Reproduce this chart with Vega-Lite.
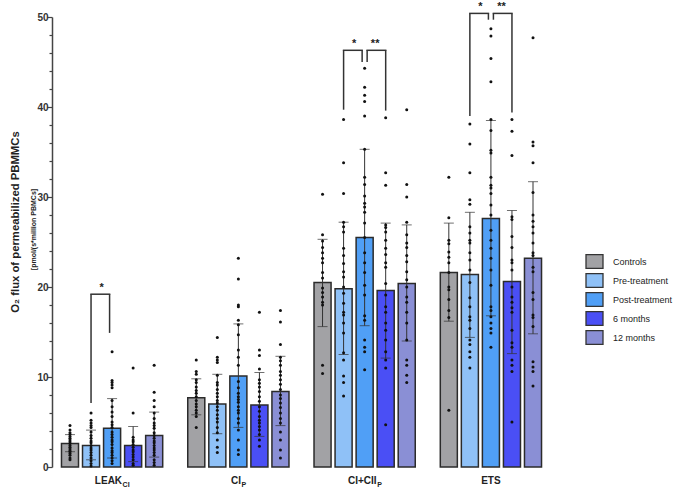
{
  "$schema": "https://vega.github.io/schema/vega-lite/v6.json",
  "width": 499,
  "height": 450,
  "autosize": {"type": "none"},
  "padding": {"left": 52, "top": 17, "right": 126, "bottom": 24},
  "config": {"font": "Liberation Sans", "view": {"stroke": null}},
  "title": {"text": "O₂ flux of permeabilized PBMMCs", "orient": "left", "anchor": "middle", "frame": "group", "fontSize": 11.3, "fontWeight": "bold", "color": "#222", "font": "Liberation Sans", "offset": 8, "dx": 20},
  "resolve": {"axis": {"y": "independent"}},
  "datasets": {
    "bars": [
      {"k": "L1", "s": "Controls", "m": 2.6, "lo": 1.7, "hi": 3.6},
      {"k": "L2", "s": "Pre-treatment", "m": 2.4, "lo": 0.8, "hi": 4.1},
      {"k": "L3", "s": "Post-treatment", "m": 4.3, "lo": 1.0, "hi": 7.6},
      {"k": "L4", "s": "6 months", "m": 2.4, "lo": 0.6, "hi": 4.5},
      {"k": "L5", "s": "12 months", "m": 3.5, "lo": 1.1, "hi": 6.1},
      {"k": "P1", "s": "Controls", "m": 7.7, "lo": 5.8, "hi": 9.8},
      {"k": "P2", "s": "Pre-treatment", "m": 7.0, "lo": 3.7, "hi": 10.3},
      {"k": "P3", "s": "Post-treatment", "m": 10.1, "lo": 4.4, "hi": 15.9},
      {"k": "P4", "s": "6 months", "m": 6.9, "lo": 3.4, "hi": 10.5},
      {"k": "P5", "s": "12 months", "m": 8.4, "lo": 4.6, "hi": 12.3},
      {"k": "C1", "s": "Controls", "m": 20.5, "lo": 15.6, "hi": 25.3},
      {"k": "C2", "s": "Pre-treatment", "m": 19.8, "lo": 12.5, "hi": 27.2},
      {"k": "C3", "s": "Post-treatment", "m": 25.5, "lo": 15.7, "hi": 35.3},
      {"k": "C4", "s": "6 months", "m": 19.6, "lo": 12.1, "hi": 27.1},
      {"k": "C5", "s": "12 months", "m": 20.4, "lo": 14.0, "hi": 26.9},
      {"k": "E1", "s": "Controls", "m": 21.6, "lo": 16.2, "hi": 27.1},
      {"k": "E2", "s": "Pre-treatment", "m": 21.4, "lo": 14.4, "hi": 28.3},
      {"k": "E3", "s": "Post-treatment", "m": 27.6, "lo": 16.8, "hi": 38.5},
      {"k": "E4", "s": "6 months", "m": 20.6, "lo": 12.6, "hi": 28.5},
      {"k": "E5", "s": "12 months", "m": 23.2, "lo": 14.8, "hi": 31.7}
    ],
    "dots": [
      {"k":"L1","v":4.6},{"k":"L1","v":4.1},{"k":"L1","v":3.8},{"k":"L1","v":3.6},{"k":"L1","v":3.4},{"k":"L1","v":3.2},{"k":"L1","v":3.0},{"k":"L1","v":2.8},{"k":"L1","v":2.6},{"k":"L1","v":2.4},{"k":"L1","v":2.2},{"k":"L1","v":2.0},{"k":"L1","v":1.8},{"k":"L1","v":1.7},{"k":"L1","v":1.5},{"k":"L1","v":1.3},{"k":"L1","v":1.0},{"k":"L1","v":0.8},
      {"k":"L2","v":6.0},{"k":"L2","v":5.2},{"k":"L2","v":4.9},{"k":"L2","v":4.6},{"k":"L2","v":4.4},{"k":"L2","v":3.9},{"k":"L2","v":3.5},{"k":"L2","v":3.2},{"k":"L2","v":2.9},{"k":"L2","v":2.7},{"k":"L2","v":2.4},{"k":"L2","v":2.1},{"k":"L2","v":1.9},{"k":"L2","v":1.6},{"k":"L2","v":1.3},{"k":"L2","v":1.0},{"k":"L2","v":0.7},{"k":"L2","v":0.4},{"k":"L2","v":0.1},
      {"k":"L3","v":12.8},{"k":"L3","v":9.6},{"k":"L3","v":9.4},{"k":"L3","v":9.1},{"k":"L3","v":8.8},{"k":"L3","v":7.4},{"k":"L3","v":6.7},{"k":"L3","v":6.1},{"k":"L3","v":5.6},{"k":"L3","v":5.0},{"k":"L3","v":4.7},{"k":"L3","v":4.4},{"k":"L3","v":3.9},{"k":"L3","v":3.6},{"k":"L3","v":3.3},{"k":"L3","v":3.0},{"k":"L3","v":2.8},{"k":"L3","v":2.5},{"k":"L3","v":2.1},{"k":"L3","v":1.8},{"k":"L3","v":1.6},{"k":"L3","v":1.3},{"k":"L3","v":1.0},{"k":"L3","v":0.7},{"k":"L3","v":0.4},
      {"k":"L4","v":11.0},{"k":"L4","v":6.0},{"k":"L4","v":3.3},{"k":"L4","v":3.0},{"k":"L4","v":2.8},{"k":"L4","v":2.5},{"k":"L4","v":2.2},{"k":"L4","v":1.9},{"k":"L4","v":1.7},{"k":"L4","v":1.4},{"k":"L4","v":1.1},{"k":"L4","v":0.8},{"k":"L4","v":0.4},{"k":"L4","v":0.2},
      {"k":"L5","v":11.3},{"k":"L5","v":8.3},{"k":"L5","v":7.4},{"k":"L5","v":6.7},{"k":"L5","v":6.0},{"k":"L5","v":5.4},{"k":"L5","v":4.9},{"k":"L5","v":4.6},{"k":"L5","v":4.3},{"k":"L5","v":3.8},{"k":"L5","v":3.5},{"k":"L5","v":3.2},{"k":"L5","v":2.9},{"k":"L5","v":2.7},{"k":"L5","v":2.4},{"k":"L5","v":2.1},{"k":"L5","v":1.9},{"k":"L5","v":1.6},{"k":"L5","v":1.3},{"k":"L5","v":0.8},{"k":"L5","v":0.5},{"k":"L5","v":0.2},
      {"k":"P1","v":11.9},{"k":"P1","v":10.6},{"k":"P1","v":10.3},{"k":"P1","v":9.7},{"k":"P1","v":9.4},{"k":"P1","v":8.9},{"k":"P1","v":8.5},{"k":"P1","v":8.2},{"k":"P1","v":7.8},{"k":"P1","v":7.4},{"k":"P1","v":7.0},{"k":"P1","v":6.7},{"k":"P1","v":6.3},{"k":"P1","v":6.0},{"k":"P1","v":5.6},{"k":"P1","v":4.4},
      {"k":"P2","v":14.4},{"k":"P2","v":12.2},{"k":"P2","v":11.9},{"k":"P2","v":11.6},{"k":"P2","v":10.2},{"k":"P2","v":9.4},{"k":"P2","v":9.1},{"k":"P2","v":8.6},{"k":"P2","v":8.2},{"k":"P2","v":7.8},{"k":"P2","v":7.4},{"k":"P2","v":7.1},{"k":"P2","v":6.7},{"k":"P2","v":6.3},{"k":"P2","v":5.8},{"k":"P2","v":5.4},{"k":"P2","v":5.0},{"k":"P2","v":4.4},{"k":"P2","v":3.8},{"k":"P2","v":3.0},{"k":"P2","v":2.2},{"k":"P2","v":1.6},
      {"k":"P3","v":23.2},{"k":"P3","v":20.9},{"k":"P3","v":18.0},{"k":"P3","v":17.8},{"k":"P3","v":16.3},{"k":"P3","v":15.8},{"k":"P3","v":14.7},{"k":"P3","v":13.0},{"k":"P3","v":12.2},{"k":"P3","v":11.3},{"k":"P3","v":9.5},{"k":"P3","v":8.8},{"k":"P3","v":8.2},{"k":"P3","v":7.8},{"k":"P3","v":7.5},{"k":"P3","v":7.2},{"k":"P3","v":6.7},{"k":"P3","v":6.3},{"k":"P3","v":6.0},{"k":"P3","v":5.4},{"k":"P3","v":4.9},{"k":"P3","v":4.1},{"k":"P3","v":3.0},{"k":"P3","v":1.9},{"k":"P3","v":1.4},
      {"k":"P4","v":17.2},{"k":"P4","v":13.0},{"k":"P4","v":12.4},{"k":"P4","v":10.9},{"k":"P4","v":9.7},{"k":"P4","v":9.3},{"k":"P4","v":8.9},{"k":"P4","v":8.4},{"k":"P4","v":7.8},{"k":"P4","v":7.3},{"k":"P4","v":6.7},{"k":"P4","v":6.2},{"k":"P4","v":5.6},{"k":"P4","v":5.2},{"k":"P4","v":4.9},{"k":"P4","v":4.5},{"k":"P4","v":4.1},{"k":"P4","v":3.6},{"k":"P4","v":3.0},{"k":"P4","v":2.3},
      {"k":"P5","v":17.4},{"k":"P5","v":16.1},{"k":"P5","v":13.6},{"k":"P5","v":12.2},{"k":"P5","v":11.8},{"k":"P5","v":11.3},{"k":"P5","v":10.6},{"k":"P5","v":10.2},{"k":"P5","v":9.7},{"k":"P5","v":9.2},{"k":"P5","v":8.6},{"k":"P5","v":8.0},{"k":"P5","v":7.6},{"k":"P5","v":7.1},{"k":"P5","v":6.6},{"k":"P5","v":6.0},{"k":"P5","v":5.4},{"k":"P5","v":4.9},{"k":"P5","v":3.9},{"k":"P5","v":3.0},{"k":"P5","v":1.9},{"k":"P5","v":1.0},
      {"k":"C1","v":30.3},{"k":"C1","v":25.8},{"k":"C1","v":25.1},{"k":"C1","v":24.4},{"k":"C1","v":23.8},{"k":"C1","v":23.2},{"k":"C1","v":22.7},{"k":"C1","v":21.6},{"k":"C1","v":21.0},{"k":"C1","v":19.9},{"k":"C1","v":19.4},{"k":"C1","v":18.9},{"k":"C1","v":18.3},{"k":"C1","v":18.0},{"k":"C1","v":11.3},{"k":"C1","v":10.4},
      {"k":"C2","v":38.6},{"k":"C2","v":33.8},{"k":"C2","v":30.4},{"k":"C2","v":27.2},{"k":"C2","v":26.7},{"k":"C2","v":26.1},{"k":"C2","v":24.3},{"k":"C2","v":23.5},{"k":"C2","v":22.6},{"k":"C2","v":21.7},{"k":"C2","v":21.1},{"k":"C2","v":20.0},{"k":"C2","v":19.3},{"k":"C2","v":18.2},{"k":"C2","v":17.2},{"k":"C2","v":16.9},{"k":"C2","v":16.0},{"k":"C2","v":14.9},{"k":"C2","v":12.7},{"k":"C2","v":11.9},{"k":"C2","v":10.1},{"k":"C2","v":9.4},{"k":"C2","v":7.9},
      {"k":"C3","v":44.3},{"k":"C3","v":42.2},{"k":"C3","v":41.3},{"k":"C3","v":40.6},{"k":"C3","v":39.0},{"k":"C3","v":35.3},{"k":"C3","v":32.2},{"k":"C3","v":31.4},{"k":"C3","v":30.1},{"k":"C3","v":29.3},{"k":"C3","v":28.9},{"k":"C3","v":28.3},{"k":"C3","v":27.1},{"k":"C3","v":25.5},{"k":"C3","v":23.8},{"k":"C3","v":22.7},{"k":"C3","v":21.6},{"k":"C3","v":20.2},{"k":"C3","v":19.1},{"k":"C3","v":16.8},{"k":"C3","v":16.3},{"k":"C3","v":14.1},{"k":"C3","v":13.3},{"k":"C3","v":12.8},{"k":"C3","v":10.8},
      {"k":"C4","v":38.8},{"k":"C4","v":32.7},{"k":"C4","v":31.3},{"k":"C4","v":26.9},{"k":"C4","v":26.6},{"k":"C4","v":26.1},{"k":"C4","v":25.2},{"k":"C4","v":24.3},{"k":"C4","v":23.6},{"k":"C4","v":22.7},{"k":"C4","v":22.2},{"k":"C4","v":20.4},{"k":"C4","v":19.1},{"k":"C4","v":17.8},{"k":"C4","v":17.2},{"k":"C4","v":16.0},{"k":"C4","v":15.2},{"k":"C4","v":14.1},{"k":"C4","v":12.8},{"k":"C4","v":11.9},{"k":"C4","v":11.0},{"k":"C4","v":4.7},
      {"k":"C5","v":39.7},{"k":"C5","v":31.4},{"k":"C5","v":30.0},{"k":"C5","v":27.2},{"k":"C5","v":25.8},{"k":"C5","v":24.9},{"k":"C5","v":24.4},{"k":"C5","v":23.5},{"k":"C5","v":22.8},{"k":"C5","v":21.7},{"k":"C5","v":20.8},{"k":"C5","v":20.0},{"k":"C5","v":18.9},{"k":"C5","v":18.3},{"k":"C5","v":17.2},{"k":"C5","v":16.0},{"k":"C5","v":14.1},{"k":"C5","v":11.9},{"k":"C5","v":11.3},{"k":"C5","v":10.2},{"k":"C5","v":9.4},
      {"k":"E1","v":32.2},{"k":"E1","v":27.7},{"k":"E1","v":25.2},{"k":"E1","v":24.8},{"k":"E1","v":23.9},{"k":"E1","v":23.3},{"k":"E1","v":22.7},{"k":"E1","v":21.6},{"k":"E1","v":20.0},{"k":"E1","v":19.7},{"k":"E1","v":18.6},{"k":"E1","v":17.4},{"k":"E1","v":16.6},{"k":"E1","v":6.3},
      {"k":"E2","v":38.1},{"k":"E2","v":35.9},{"k":"E2","v":32.7},{"k":"E2","v":29.7},{"k":"E2","v":29.2},{"k":"E2","v":26.7},{"k":"E2","v":26.0},{"k":"E2","v":25.2},{"k":"E2","v":24.9},{"k":"E2","v":23.8},{"k":"E2","v":23.0},{"k":"E2","v":21.9},{"k":"E2","v":20.5},{"k":"E2","v":18.8},{"k":"E2","v":17.8},{"k":"E2","v":16.7},{"k":"E2","v":16.3},{"k":"E2","v":15.4},{"k":"E2","v":14.1},{"k":"E2","v":13.6},{"k":"E2","v":12.8},{"k":"E2","v":12.2},{"k":"E2","v":11.0},
      {"k":"E3","v":48.7},{"k":"E3","v":47.9},{"k":"E3","v":45.4},{"k":"E3","v":42.8},{"k":"E3","v":38.6},{"k":"E3","v":37.4},{"k":"E3","v":35.2},{"k":"E3","v":34.9},{"k":"E3","v":32.2},{"k":"E3","v":31.3},{"k":"E3","v":31.0},{"k":"E3","v":30.4},{"k":"E3","v":29.1},{"k":"E3","v":28.0},{"k":"E3","v":26.3},{"k":"E3","v":25.2},{"k":"E3","v":24.3},{"k":"E3","v":23.2},{"k":"E3","v":21.9},{"k":"E3","v":20.2},{"k":"E3","v":17.8},{"k":"E3","v":17.4},{"k":"E3","v":16.7},{"k":"E3","v":16.0},{"k":"E3","v":15.4},{"k":"E3","v":14.9},{"k":"E3","v":13.3},
      {"k":"E4","v":38.6},{"k":"E4","v":37.3},{"k":"E4","v":34.6},{"k":"E4","v":27.8},{"k":"E4","v":27.5},{"k":"E4","v":25.6},{"k":"E4","v":24.4},{"k":"E4","v":23.0},{"k":"E4","v":22.7},{"k":"E4","v":21.9},{"k":"E4","v":20.0},{"k":"E4","v":18.9},{"k":"E4","v":18.3},{"k":"E4","v":17.7},{"k":"E4","v":17.2},{"k":"E4","v":15.2},{"k":"E4","v":13.8},{"k":"E4","v":13.3},{"k":"E4","v":11.9},{"k":"E4","v":11.3},{"k":"E4","v":10.6},{"k":"E4","v":5.0},
      {"k":"E5","v":47.7},{"k":"E5","v":36.1},{"k":"E5","v":35.7},{"k":"E5","v":33.8},{"k":"E5","v":30.5},{"k":"E5","v":28.0},{"k":"E5","v":27.3},{"k":"E5","v":26.7},{"k":"E5","v":26.0},{"k":"E5","v":24.9},{"k":"E5","v":23.8},{"k":"E5","v":23.5},{"k":"E5","v":22.2},{"k":"E5","v":21.7},{"k":"E5","v":19.4},{"k":"E5","v":18.6},{"k":"E5","v":16.9},{"k":"E5","v":16.6},{"k":"E5","v":15.6},{"k":"E5","v":11.7},{"k":"E5","v":11.1},{"k":"E5","v":10.6},{"k":"E5","v":9.0}
    ],
    "brk": [
      {"o": "L2", "i": "L3", "side": "L", "top": 19.2, "yo": 7.1, "yi": 14.9, "left": "L2", "star": "*"},
      {"o": "C2", "i": "C3", "side": "L", "top": 46.3, "yo": 39.7, "yi": 45.0, "left": "C2", "star": "*"},
      {"o": "C4", "i": "C3", "side": "R", "top": 46.3, "yo": 39.6, "yi": 45.0, "left": "C3", "star": "**"},
      {"o": "E2", "i": "E3", "side": "L", "top": 50.4, "yo": 39.0, "yi": 49.7, "left": "E2", "star": "*"},
      {"o": "E4", "i": "E3", "side": "R", "top": 50.4, "yo": 39.4, "yi": 49.7, "left": "E3", "star": "**"}
    ],
    "labels": [
      {"k": "L3", "main": "LEAK", "sub": "CI"},
      {"k": "P3", "main": "CI", "sub": "P"},
      {"k": "C3", "main": "CI+CII", "sub": "P"},
      {"k": "E3", "main": "ETS", "sub": ""}
    ]
  },
  "layer": [
    {
      "data": {"name": "bars"},
      "mark": {"type": "tick", "opacity": 0},
      "encoding": {
        "x": {"field": "k", "type": "nominal", "scale": {"domain": ["L1","L2","L3","L4","L5","g1","P1","P2","P3","P4","P5","g2","C1","C2","C3","C4","C5","g3","E1","E2","E3","E4","E5"], "paddingInner": 0.19, "paddingOuter": 0.45}, "axis": null},
        "y": {"field": "m", "type": "quantitative", "scale": {"domain": [0, 50], "nice": false},
              "axis": {"orient": "left", "values": [2,4,6,8,12,14,16,18,22,24,26,28,32,34,36,38,42,44,46,48], "labels": false, "domain": false, "grid": false, "title": null, "tickSize": 3, "tickColor": "#444", "tickWidth": 1.2}}
      }
    },
    {
      "data": {"name": "bars"},
      "mark": {"type": "bar", "stroke": "#2b2b2b", "strokeWidth": 1.5},
      "encoding": {
        "x": {"field": "k", "type": "nominal", "scale": {"domain": ["L1","L2","L3","L4","L5","g1","P1","P2","P3","P4","P5","g2","C1","C2","C3","C4","C5","g3","E1","E2","E3","E4","E5"], "paddingInner": 0.19, "paddingOuter": 0.45},
              "axis": {"labels": false, "ticks": false, "title": null, "domainColor": "#444", "domainWidth": 1.5}},
        "y": {"field": "m", "type": "quantitative", "scale": {"domain": [0, 50], "nice": false, "zero": true},
              "axis": {"orient": "left", "values": [0,10,20,30,40,50],
                       "tickSize": 5, "tickColor": "#444", "tickWidth": 1.2, "domainColor": "#444", "domainWidth": 1.5,
                       "labelFont": "Liberation Sans", "labelFontWeight": "bold", "labelFontSize": 10, "labelColor": "#333", "labelPadding": -1,
                       "grid": false,
                       "title": "[pmol/(s*million PBMCs]", "titleFont": "Liberation Sans", "titleFontSize": 7, "titleFontWeight": "bold", "titleColor": "#222",
                       "titleX": -19, "titleY": 212, "titleAngle": -90, "titleBaseline": "middle", "titleAlign": "center"}},
        "color": {"field": "s", "type": "nominal",
                  "scale": {"domain": ["Controls","Pre-treatment","Post-treatment","6 months","12 months"], "range": ["#a2a2a5","#8fc1f7","#509ff6","#4a4ff5","#8a8fd5"]},
                  "legend": {"orient": "none", "legendX": 533, "legendY": 235, "title": null, "symbolType": "M-1,-0.8H1V0.8H-1Z", "symbolSize": 289,
                             "symbolStrokeColor": "#333", "symbolStrokeWidth": 1.3, "symbolFillOpacity": 1, "labelFont": "Liberation Sans", "labelFontSize": 9,
                             "labelColor": "#222", "labelOffset": 9, "rowPadding": 0}}
      }
    },
    {
      "data": {"name": "bars"},
      "mark": {"type": "rule", "color": "#333", "strokeWidth": 1},
      "encoding": {
        "x": {"field": "k", "type": "nominal", "scale": {"domain": ["L1","L2","L3","L4","L5","g1","P1","P2","P3","P4","P5","g2","C1","C2","C3","C4","C5","g3","E1","E2","E3","E4","E5"], "paddingInner": 0.19, "paddingOuter": 0.45}, "axis": null},
        "y": {"field": "lo", "type": "quantitative", "scale": {"domain": [0, 50], "nice": false}, "axis": null},
        "y2": {"field": "hi"}
      }
    },
    {
      "data": {"name": "bars"},
      "mark": {"type": "tick", "color": "#333", "thickness": 1, "size": 10},
      "encoding": {
        "x": {"field": "k", "type": "nominal", "scale": {"domain": ["L1","L2","L3","L4","L5","g1","P1","P2","P3","P4","P5","g2","C1","C2","C3","C4","C5","g3","E1","E2","E3","E4","E5"], "paddingInner": 0.19, "paddingOuter": 0.45}, "axis": null},
        "y": {"field": "lo", "type": "quantitative", "scale": {"domain": [0, 50], "nice": false}, "axis": null}
      }
    },
    {
      "data": {"name": "bars"},
      "mark": {"type": "tick", "color": "#333", "thickness": 1, "size": 10},
      "encoding": {
        "x": {"field": "k", "type": "nominal", "scale": {"domain": ["L1","L2","L3","L4","L5","g1","P1","P2","P3","P4","P5","g2","C1","C2","C3","C4","C5","g3","E1","E2","E3","E4","E5"], "paddingInner": 0.19, "paddingOuter": 0.45}, "axis": null},
        "y": {"field": "hi", "type": "quantitative", "scale": {"domain": [0, 50], "nice": false}, "axis": null}
      }
    },
    {
      "data": {"name": "dots"},
      "mark": {"type": "circle", "size": 9, "color": "#111", "opacity": 1},
      "encoding": {
        "x": {"field": "k", "type": "nominal", "scale": {"domain": ["L1","L2","L3","L4","L5","g1","P1","P2","P3","P4","P5","g2","C1","C2","C3","C4","C5","g3","E1","E2","E3","E4","E5"], "paddingInner": 0.19, "paddingOuter": 0.45}, "axis": null},
        "y": {"field": "v", "type": "quantitative", "scale": {"domain": [0, 50], "nice": false}, "axis": null}
      }
    },
    {
      "data": {"name": "brk"},
      "transform": [{"filter": "datum.side == 'L'"}],
      "mark": {"type": "rule", "color": "#333", "strokeWidth": 1.5, "x2Offset": -2.5, "strokeCap": "square"},
      "encoding": {
        "x": {"field": "o", "type": "nominal", "scale": {"domain": ["L1","L2","L3","L4","L5","g1","P1","P2","P3","P4","P5","g2","C1","C2","C3","C4","C5","g3","E1","E2","E3","E4","E5"], "paddingInner": 0.19, "paddingOuter": 0.45}, "axis": null},
        "x2": {"field": "i"},
        "y": {"field": "top", "type": "quantitative", "scale": {"domain": [0, 50], "nice": false}, "axis": null}
      }
    },
    {
      "data": {"name": "brk"},
      "transform": [{"filter": "datum.side == 'R'"}],
      "mark": {"type": "rule", "color": "#333", "strokeWidth": 1.5, "x2Offset": 2.5, "strokeCap": "square"},
      "encoding": {
        "x": {"field": "o", "type": "nominal", "scale": {"domain": ["L1","L2","L3","L4","L5","g1","P1","P2","P3","P4","P5","g2","C1","C2","C3","C4","C5","g3","E1","E2","E3","E4","E5"], "paddingInner": 0.19, "paddingOuter": 0.45}, "axis": null},
        "x2": {"field": "i"},
        "y": {"field": "top", "type": "quantitative", "scale": {"domain": [0, 50], "nice": false}, "axis": null}
      }
    },
    {
      "data": {"name": "brk"},
      "mark": {"type": "rule", "color": "#333", "strokeWidth": 1.5},
      "encoding": {
        "x": {"field": "o", "type": "nominal", "scale": {"domain": ["L1","L2","L3","L4","L5","g1","P1","P2","P3","P4","P5","g2","C1","C2","C3","C4","C5","g3","E1","E2","E3","E4","E5"], "paddingInner": 0.19, "paddingOuter": 0.45}, "axis": null},
        "y": {"field": "yo", "type": "quantitative", "scale": {"domain": [0, 50], "nice": false}, "axis": null},
        "y2": {"field": "top"}
      }
    },
    {
      "data": {"name": "brk"},
      "transform": [{"filter": "datum.side == 'L'"}],
      "mark": {"type": "rule", "color": "#333", "strokeWidth": 1.5, "xOffset": -2.5},
      "encoding": {
        "x": {"field": "i", "type": "nominal", "scale": {"domain": ["L1","L2","L3","L4","L5","g1","P1","P2","P3","P4","P5","g2","C1","C2","C3","C4","C5","g3","E1","E2","E3","E4","E5"], "paddingInner": 0.19, "paddingOuter": 0.45}, "axis": null},
        "y": {"field": "yi", "type": "quantitative", "scale": {"domain": [0, 50], "nice": false}, "axis": null},
        "y2": {"field": "top"}
      }
    },
    {
      "data": {"name": "brk"},
      "transform": [{"filter": "datum.side == 'R'"}],
      "mark": {"type": "rule", "color": "#333", "strokeWidth": 1.5, "xOffset": 2.5},
      "encoding": {
        "x": {"field": "i", "type": "nominal", "scale": {"domain": ["L1","L2","L3","L4","L5","g1","P1","P2","P3","P4","P5","g2","C1","C2","C3","C4","C5","g3","E1","E2","E3","E4","E5"], "paddingInner": 0.19, "paddingOuter": 0.45}, "axis": null},
        "y": {"field": "yi", "type": "quantitative", "scale": {"domain": [0, 50], "nice": false}, "axis": null},
        "y2": {"field": "top"}
      }
    },
    {
      "data": {"name": "brk"},
      "mark": {"type": "text", "color": "#222", "fontSize": 11, "fontWeight": "bold", "dx": 10.5, "dy": -1, "baseline": "bottom", "align": "center"},
      "encoding": {
        "x": {"field": "left", "type": "nominal", "scale": {"domain": ["L1","L2","L3","L4","L5","g1","P1","P2","P3","P4","P5","g2","C1","C2","C3","C4","C5","g3","E1","E2","E3","E4","E5"], "paddingInner": 0.19, "paddingOuter": 0.45}, "axis": null},
        "y": {"field": "top", "type": "quantitative", "scale": {"domain": [0, 50], "nice": false}, "axis": null},
        "text": {"field": "star"}
      }
    },
    {
      "data": {"name": "labels"},
      "transform": [{"filter": "datum.k == 'L3'"}],
      "mark": {"type": "text", "color": "#222", "fontSize": 10, "fontWeight": "bold", "align": "right", "dx": 10, "dy": 17, "baseline": "alphabetic"},
      "encoding": {
        "x": {"field": "k", "type": "nominal", "scale": {"domain": ["L1","L2","L3","L4","L5","g1","P1","P2","P3","P4","P5","g2","C1","C2","C3","C4","C5","g3","E1","E2","E3","E4","E5"], "paddingInner": 0.19, "paddingOuter": 0.45}, "axis": null},
        "y": {"datum": 0, "type": "quantitative", "scale": {"domain": [0, 50], "nice": false}, "axis": null},
        "text": {"field": "main"}
      }
    },
    {
      "data": {"name": "labels"},
      "transform": [{"filter": "datum.k == 'L3'"}],
      "mark": {"type": "text", "color": "#222", "fontSize": 7, "fontWeight": "bold", "align": "left", "dx": 10.5, "dy": 19.5, "baseline": "alphabetic"},
      "encoding": {
        "x": {"field": "k", "type": "nominal", "scale": {"domain": ["L1","L2","L3","L4","L5","g1","P1","P2","P3","P4","P5","g2","C1","C2","C3","C4","C5","g3","E1","E2","E3","E4","E5"], "paddingInner": 0.19, "paddingOuter": 0.45}, "axis": null},
        "y": {"datum": 0, "type": "quantitative", "scale": {"domain": [0, 50], "nice": false}, "axis": null},
        "text": {"field": "sub"}
      }
    },
    {
      "data": {"name": "labels"},
      "transform": [{"filter": "datum.k == 'P3'"}],
      "mark": {"type": "text", "color": "#222", "fontSize": 10, "fontWeight": "bold", "align": "right", "dx": 2.6, "dy": 17, "baseline": "alphabetic"},
      "encoding": {
        "x": {"field": "k", "type": "nominal", "scale": {"domain": ["L1","L2","L3","L4","L5","g1","P1","P2","P3","P4","P5","g2","C1","C2","C3","C4","C5","g3","E1","E2","E3","E4","E5"], "paddingInner": 0.19, "paddingOuter": 0.45}, "axis": null},
        "y": {"datum": 0, "type": "quantitative", "scale": {"domain": [0, 50], "nice": false}, "axis": null},
        "text": {"field": "main"}
      }
    },
    {
      "data": {"name": "labels"},
      "transform": [{"filter": "datum.k == 'P3'"}],
      "mark": {"type": "text", "color": "#222", "fontSize": 7, "fontWeight": "bold", "align": "left", "dx": 3.1, "dy": 19.5, "baseline": "alphabetic"},
      "encoding": {
        "x": {"field": "k", "type": "nominal", "scale": {"domain": ["L1","L2","L3","L4","L5","g1","P1","P2","P3","P4","P5","g2","C1","C2","C3","C4","C5","g3","E1","E2","E3","E4","E5"], "paddingInner": 0.19, "paddingOuter": 0.45}, "axis": null},
        "y": {"datum": 0, "type": "quantitative", "scale": {"domain": [0, 50], "nice": false}, "axis": null},
        "text": {"field": "sub"}
      }
    },
    {
      "data": {"name": "labels"},
      "transform": [{"filter": "datum.k == 'C3'"}],
      "mark": {"type": "text", "color": "#222", "fontSize": 10, "fontWeight": "bold", "align": "right", "dx": 12, "dy": 17, "baseline": "alphabetic"},
      "encoding": {
        "x": {"field": "k", "type": "nominal", "scale": {"domain": ["L1","L2","L3","L4","L5","g1","P1","P2","P3","P4","P5","g2","C1","C2","C3","C4","C5","g3","E1","E2","E3","E4","E5"], "paddingInner": 0.19, "paddingOuter": 0.45}, "axis": null},
        "y": {"datum": 0, "type": "quantitative", "scale": {"domain": [0, 50], "nice": false}, "axis": null},
        "text": {"field": "main"}
      }
    },
    {
      "data": {"name": "labels"},
      "transform": [{"filter": "datum.k == 'C3'"}],
      "mark": {"type": "text", "color": "#222", "fontSize": 7, "fontWeight": "bold", "align": "left", "dx": 12.5, "dy": 19.5, "baseline": "alphabetic"},
      "encoding": {
        "x": {"field": "k", "type": "nominal", "scale": {"domain": ["L1","L2","L3","L4","L5","g1","P1","P2","P3","P4","P5","g2","C1","C2","C3","C4","C5","g3","E1","E2","E3","E4","E5"], "paddingInner": 0.19, "paddingOuter": 0.45}, "axis": null},
        "y": {"datum": 0, "type": "quantitative", "scale": {"domain": [0, 50], "nice": false}, "axis": null},
        "text": {"field": "sub"}
      }
    },
    {
      "data": {"name": "labels"},
      "transform": [{"filter": "datum.k == 'E3'"}],
      "mark": {"type": "text", "color": "#222", "fontSize": 10, "fontWeight": "bold", "align": "center", "dy": 17, "baseline": "alphabetic"},
      "encoding": {
        "x": {"field": "k", "type": "nominal", "scale": {"domain": ["L1","L2","L3","L4","L5","g1","P1","P2","P3","P4","P5","g2","C1","C2","C3","C4","C5","g3","E1","E2","E3","E4","E5"], "paddingInner": 0.19, "paddingOuter": 0.45}, "axis": null},
        "y": {"datum": 0, "type": "quantitative", "scale": {"domain": [0, 50], "nice": false}, "axis": null},
        "text": {"field": "main"}
      }
    }
  ]
}
